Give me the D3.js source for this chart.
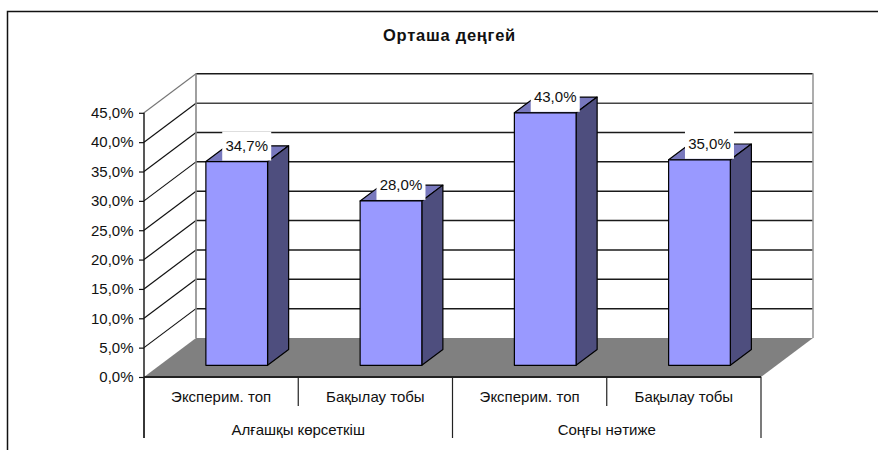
<!DOCTYPE html>
<html><head><meta charset="utf-8">
<style>html,body{margin:0;padding:0;background:#fff}svg{display:block}text{font-family:"Liberation Sans",Arial,sans-serif;fill:#111}</style>
<script src="https://cdn.jsdelivr.net/npm/d3@7"></script></head><body>
<script>
const titleText = "Орташа деңгей";
const categories = ["Эксперим. топ","Бақылау тобы","Эксперим. топ","Бақылау тобы"];
const groups = ["Алғашқы көрсеткіш","Соңғы нәтиже"];
const values = [34.7,28.0,43.0,35.0];
const yTicks = [0,5,10,15,20,25,30,35,40,45];

const W=878,H=450;
const svg=d3.select("body").append("svg").attr("width",W).attr("height",H);
const x=d3.scaleBand().domain(d3.range(categories.length)).range([144,761]).paddingInner(0).paddingOuter(0);
const gx=d3.scaleBand().domain(d3.range(groups.length)).range([144,761]);
const y=d3.scaleLinear().domain([0,45]).range([377,112.8]);
const DX=52,DY=-39;
const line=(a,b,c,d,col,w)=>svg.append("line").attr("x1",a).attr("y1",b).attr("x2",c).attr("y2",d).attr("stroke",col).attr("stroke-width",w);
const poly=(p,fill)=>svg.append("polygon").attr("points",p.map(q=>q.join(",")).join(" ")).attr("fill",fill).attr("stroke","#000").attr("stroke-width",1.2).attr("stroke-linejoin","round");

// outer frame (cropped)
svg.append("path").attr("d","M7.5,450V11.5H878").attr("fill","none").attr("stroke","#111").attr("stroke-width",1.5);

// title
svg.append("text").attr("x",449.5).attr("y",41).attr("text-anchor","middle").attr("font-size",16.5).attr("letter-spacing",0.75).attr("font-weight","bold").text(titleText);

const x0=x.range()[0],x1=x.range()[1];
// back and side wall gridlines
yTicks.forEach(t=>{
  const c=t===45?"#777":"#111";
  if(t>0){
    line(x0+DX,y(t)+DY,x1+DX,y(t)+DY,t===40?"#444":"#1a1a1a",1.5);
    line(x0,y(t),x0+DX,y(t)+DY,c,1.2);
  }
});
// wall edges
line(x0+DX,y(45)+DY-.5,x0+DX,y(0)+DY,"#888",1.6);
line(x1+DX,y(45)+DY-.5,x1+DX,y(0)+DY,"#999",1.6);
// floor
svg.append("polygon").attr("points",[[x0,y(0)],[x1,y(0)],[x1+DX,y(0)+DY],[x0+DX,y(0)+DY]].map(q=>q.join(",")).join(" ")).attr("fill","#808080");

// bars
const barW=x.bandwidth()*0.4;
const off=0.3,dep=0.405;
values.forEach((v,i)=>{
  const L=x(i)+x.bandwidth()/2-barW/2+DX*off, R=L+barW;
  const base=y(0)+DY*off, top=base-(y(0)-y(v));
  const dx=DX*dep, dy=DY*dep;
  poly([[L,top],[R,top],[R+dx,top+dy],[L+dx,top+dy]],"#7878bd");
  poly([[R,top],[R+dx,top+dy],[R+dx,base+dy],[R,base]],"#4e4e7e");
  poly([[L,top],[R,top],[R,base],[L,base]],"#9999ff");
});
// value labels
values.forEach((v,i)=>{
  const cx=x(i)+x.bandwidth()/2+DX*off+10;
  const top=y(0)+DY*off-(y(0)-y(v));
  svg.append("rect").attr("x",cx-24.5).attr("y",top-30).attr("width",49).attr("height",29).attr("fill","#fff");
  svg.append("text").attr("x",cx).attr("y",top-11).attr("text-anchor","middle").attr("font-size",15).text(d3.format(".1f")(v).replace(".",",")+"%");
});

// y axis
const ax=svg.append("g").attr("transform",`translate(${x0},0)`).call(d3.axisLeft(y).tickValues(yTicks).tickSize(5).tickPadding(5.5).tickFormat(d=>d3.format(".1f")(d).replace(".",",")+"%"));
ax.select(".domain").remove();
ax.selectAll("line").attr("stroke","#111").attr("stroke-width",1.2);
ax.selectAll("text").attr("font-size",15).attr("font-family",null);
line(x0,y(45),x0,438,"#111",1.4);
// x axis
line(x0,y(0),x1,y(0),"#222",1.8);
// multi-level ticks
x.domain().forEach(i=>{
  const xp=x(i);
  line(xp,y(0),xp,i%2===0?438:406,"#222",1.2);
  svg.append("text").attr("x",xp+x.bandwidth()/2).attr("y",401.5).attr("text-anchor","middle").attr("font-size",15).text(categories[i]);
});
line(x1,y(0),x1,438,"#222",1.2);
groups.forEach((t,i)=>svg.append("text").attr("x",gx(i)+gx.bandwidth()/2).attr("y",434.5).attr("text-anchor","middle").attr("font-size",15).text(t));
</script></body></html>
